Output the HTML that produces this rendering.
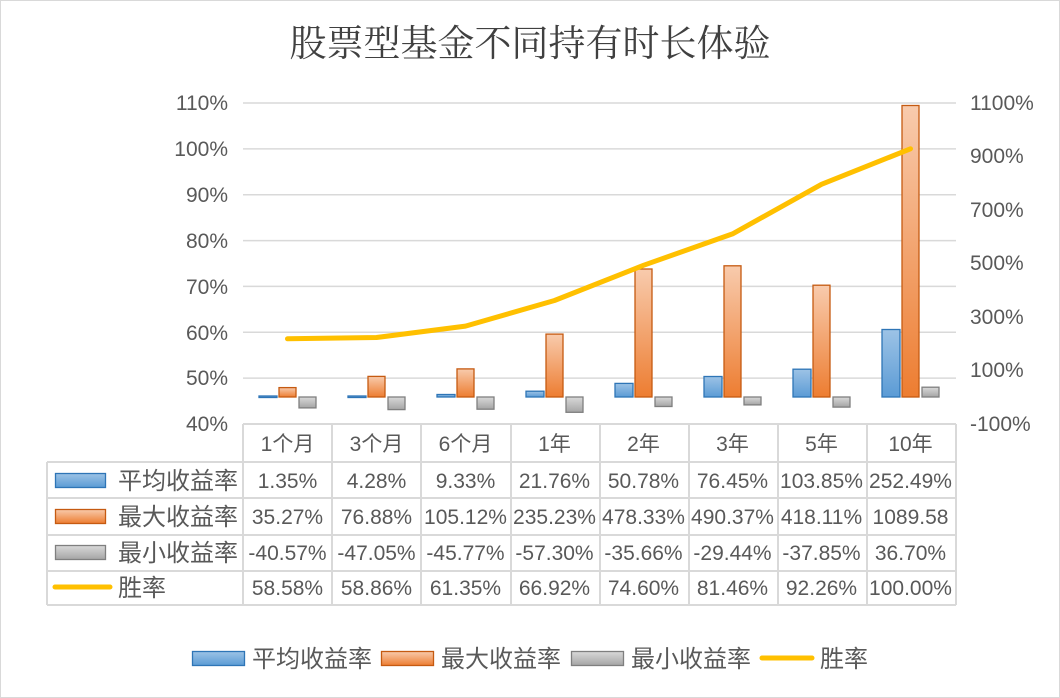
<!DOCTYPE html>
<html><head><meta charset="utf-8"><style>
body{margin:0;background:#fff}
svg{display:block}
text{font-family:"Liberation Sans","Noto Sans CJK SC",sans-serif;fill:#595959;font-size:21px}
.c{font-size:24px}
</style></head><body>
<svg width="1060" height="698" viewBox="0 0 1060 698" xmlns="http://www.w3.org/2000/svg">
<defs>
<linearGradient id="gb" x1="0" x2="0" y1="0" y2="1"><stop offset="0" stop-color="#9dc3e6"/><stop offset="1" stop-color="#5b9bd5"/></linearGradient>
<linearGradient id="go" x1="0" x2="0" y1="0" y2="1"><stop offset="0" stop-color="#f8cbad"/><stop offset="1" stop-color="#ed7d31"/></linearGradient>
<linearGradient id="gg" x1="0" x2="0" y1="0" y2="1"><stop offset="0" stop-color="#d9d9d9"/><stop offset="1" stop-color="#a5a5a5"/></linearGradient>
</defs>
<rect x="0.5" y="0.5" width="1059" height="697" fill="#fff" stroke="#d9d9d9"/>
<text x="530" y="56" text-anchor="middle" style="font-size:37px;fill:#404040;font-family:'Noto Serif CJK SC','Noto Sans CJK SC',serif">股票型基金不同持有时长体验</text>
<g stroke="#d9d9d9" stroke-width="1.5">
<line x1="243" x2="956" y1="103" y2="103"/><line x1="243" x2="956" y1="148.9" y2="148.9"/>
<line x1="243" x2="956" y1="194.7" y2="194.7"/><line x1="243" x2="956" y1="240.6" y2="240.6"/>
<line x1="243" x2="956" y1="286.4" y2="286.4"/><line x1="243" x2="956" y1="332.3" y2="332.3"/>
<line x1="243" x2="956" y1="378.1" y2="378.1"/>
</g>
<g text-anchor="end">
<text x="228" y="110">110%</text><text x="228" y="156">100%</text><text x="228" y="202">90%</text>
<text x="228" y="248">80%</text><text x="228" y="294">70%</text><text x="228" y="340">60%</text>
<text x="228" y="385">50%</text><text x="228" y="431">40%</text>
</g>
<g>
<text x="970" y="110">1100%</text><text x="970" y="163">900%</text><text x="970" y="217">700%</text>
<text x="970" y="270">500%</text><text x="970" y="324">300%</text><text x="970" y="377">100%</text>
<text x="970" y="431">-100%</text>
</g>
<g stroke-width="1.3">
<g fill="url(#gb)" stroke="#2e75b6">
<rect x="259" y="396" width="18" height="1.5"/>
<rect x="348" y="396" width="18" height="1.5"/>
<rect x="437" y="394.5" width="18" height="2.5"/>
<rect x="526" y="391.2" width="18" height="5.8"/>
<rect x="615" y="383.4" width="18" height="13.6"/>
<rect x="704" y="376.5" width="18" height="20.5"/>
<rect x="793" y="369.2" width="18" height="27.8"/>
<rect x="882" y="329.5" width="18" height="67.5"/>
</g>
<g fill="url(#go)" stroke="#c55a11">
<rect x="279" y="387.6" width="17" height="9.4"/>
<rect x="368" y="376.4" width="17" height="20.6"/>
<rect x="457" y="368.9" width="17" height="28.1"/>
<rect x="546" y="334.1" width="17" height="62.9"/>
<rect x="635" y="269" width="17" height="128"/>
<rect x="724" y="265.8" width="17" height="131.2"/>
<rect x="813" y="285.2" width="17" height="111.8"/>
<rect x="902" y="105.5" width="17" height="291.5"/>
</g>
<g fill="url(#gg)" stroke="#7f7f7f">
<rect x="299" y="397" width="17" height="10.9"/>
<rect x="388" y="397" width="17" height="12.6"/>
<rect x="477" y="397" width="17" height="12.2"/>
<rect x="566" y="397" width="17" height="15.3"/>
<rect x="655" y="397" width="17" height="9.5"/>
<rect x="744" y="397" width="17" height="7.9"/>
<rect x="833" y="397" width="17" height="10.1"/>
<rect x="922" y="387.2" width="17" height="9.8"/>
</g>
</g>
<polyline fill="none" stroke="#ffc000" stroke-width="5" stroke-linecap="round" stroke-linejoin="round"
points="287.5,338.8 376.5,337.5 465.5,326.1 554.5,300.5 643.5,265.3 732.5,233.9 821.5,184.3 910.5,148.8"/>
<g stroke="#d9d9d9" stroke-width="2" fill="none">
<line x1="243" x2="956" y1="424" y2="424"/>
<line x1="47" x2="956" y1="462" y2="462"/><line x1="47" x2="956" y1="498" y2="498"/>
<line x1="47" x2="956" y1="535" y2="535"/><line x1="47" x2="956" y1="571" y2="571"/>
<line x1="47" x2="956" y1="605" y2="605"/>
<line x1="47" x2="47" y1="462" y2="605"/>
<line x1="243" x2="243" y1="424" y2="605"/><line x1="332" x2="332" y1="424" y2="605"/>
<line x1="421" x2="421" y1="424" y2="605"/><line x1="511" x2="511" y1="424" y2="605"/>
<line x1="600" x2="600" y1="424" y2="605"/><line x1="689" x2="689" y1="424" y2="605"/>
<line x1="778" x2="778" y1="424" y2="605"/><line x1="867" x2="867" y1="424" y2="605"/>
<line x1="956" x2="956" y1="424" y2="605"/>
</g>
<g text-anchor="middle">
<g style="font-size:22px">
<text x="287.5" y="451">1个月</text><text x="376.5" y="451">3个月</text><text x="465.5" y="451">6个月</text>
<text x="554.5" y="451">1年</text><text x="643.5" y="451">2年</text><text x="732.5" y="451">3年</text>
<text x="821.5" y="451">5年</text><text x="910.5" y="451">10年</text>
</g>
<text x="287.5" y="488">1.35%</text><text x="376.5" y="488">4.28%</text><text x="465.5" y="488">9.33%</text>
<text x="554.5" y="488">21.76%</text><text x="643.5" y="488">50.78%</text><text x="732.5" y="488">76.45%</text>
<text x="821.5" y="488">103.85%</text><text x="910.5" y="488">252.49%</text>
<text x="287.5" y="524">35.27%</text><text x="376.5" y="524">76.88%</text><text x="465.5" y="524">105.12%</text>
<text x="554.5" y="524">235.23%</text><text x="643.5" y="524">478.33%</text><text x="732.5" y="524">490.37%</text>
<text x="821.5" y="524">418.11%</text><text x="910.5" y="524">1089.58</text>
<text x="287.5" y="560">-40.57%</text><text x="376.5" y="560">-47.05%</text><text x="465.5" y="560">-45.77%</text>
<text x="554.5" y="560">-57.30%</text><text x="643.5" y="560">-35.66%</text><text x="732.5" y="560">-29.44%</text>
<text x="821.5" y="560">-37.85%</text><text x="910.5" y="560">36.70%</text>
<text x="287.5" y="595">58.58%</text><text x="376.5" y="595">58.86%</text><text x="465.5" y="595">61.35%</text>
<text x="554.5" y="595">66.92%</text><text x="643.5" y="595">74.60%</text><text x="732.5" y="595">81.46%</text>
<text x="821.5" y="595">92.26%</text><text x="910.5" y="595">100.00%</text>
</g>
<rect x="55.5" y="473.5" width="50" height="14" fill="url(#gb)" stroke="#2e75b6" stroke-width="1.3"/>
<rect x="55.5" y="509.5" width="50" height="14" fill="url(#go)" stroke="#c55a11" stroke-width="1.3"/>
<rect x="55.5" y="545.5" width="50" height="14" fill="url(#gg)" stroke="#7f7f7f" stroke-width="1.3"/>
<line x1="55" x2="110" y1="587" y2="587" stroke="#ffc000" stroke-width="5" stroke-linecap="round"/>
<text class="c" x="118" y="489">平均收益率</text><text class="c" x="118" y="525">最大收益率</text>
<text class="c" x="118" y="561">最小收益率</text><text class="c" x="118" y="596">胜率</text>
<rect x="192.5" y="651.5" width="52" height="14" fill="url(#gb)" stroke="#2e75b6" stroke-width="1.3"/>
<text class="c" x="252" y="667">平均收益率</text>
<rect x="381.5" y="651.5" width="52" height="14" fill="url(#go)" stroke="#c55a11" stroke-width="1.3"/>
<text class="c" x="441" y="667">最大收益率</text>
<rect x="571.5" y="651.5" width="52" height="14" fill="url(#gg)" stroke="#7f7f7f" stroke-width="1.3"/>
<text class="c" x="631" y="667">最小收益率</text>
<line x1="762" x2="812" y1="658" y2="658" stroke="#ffc000" stroke-width="5" stroke-linecap="round"/>
<text class="c" x="820" y="667">胜率</text>
</svg>
</body></html>
